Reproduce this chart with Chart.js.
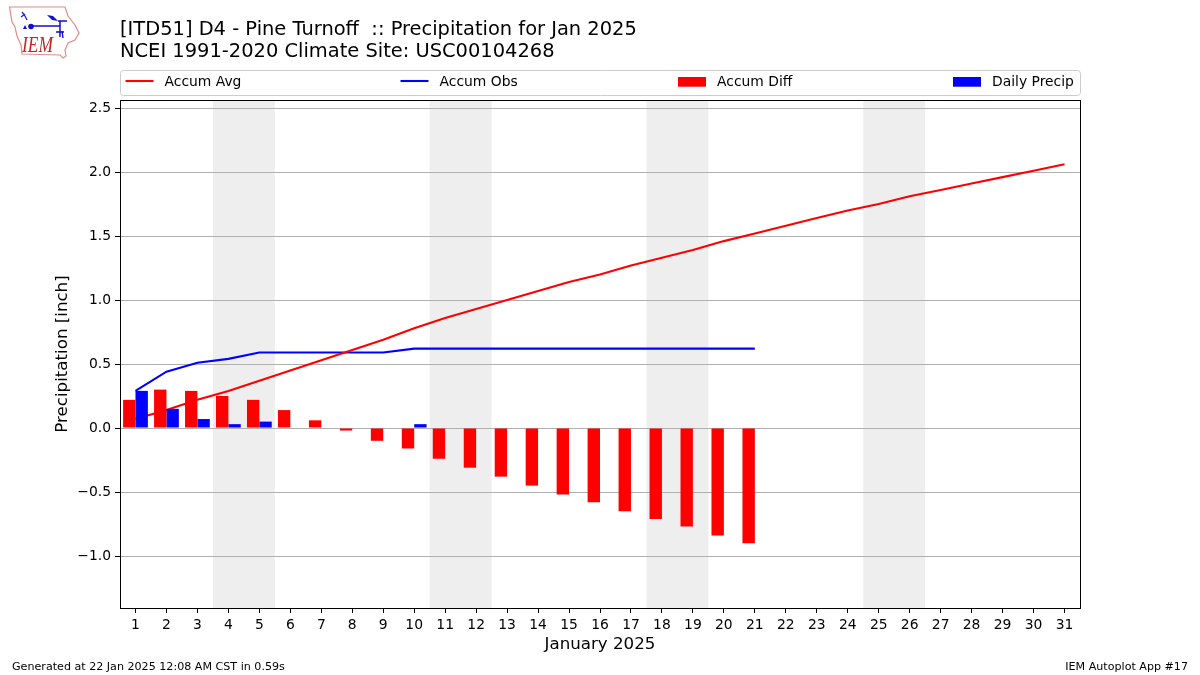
<!DOCTYPE html>
<html>
<head>
<meta charset="utf-8">
<style>
html,body{margin:0;padding:0;background:#fff;width:1200px;height:675px;overflow:hidden}
#wrap{position:relative;width:1200px;height:675px}
canvas{position:absolute;left:0;top:0}
#logo{position:absolute;left:0;top:0}
</style>
<script src="https://cdn.jsdelivr.net/npm/chart.js@4"></script>
</head>
<body>
<div id="wrap">
<canvas id="c" width="1200" height="675"></canvas>
<svg id="logo" width="90" height="62" viewBox="0 0 90 62">
  <path d="M9.5 7 L65 7 L68 16 L75 25 L79 33 L75 40 L68 43 L65 50 L66 56 L63 58 L60 55 L22 54 L21 45 L17 36 L15 27 L12 22 Z" fill="#fff" stroke="#e28a8a" stroke-width="1.2"/>
  <path d="M22 12 L25 16 L27 20 M21 17 L25 14" stroke="#2222dd" stroke-width="1.3" fill="none"/>
  <circle cx="31" cy="26.5" r="2.8" fill="#1111cc"/>
  <path d="M33 26 L60 26 M60 21 L60 37 M58 21 L67 21" stroke="#1111cc" stroke-width="1.5" fill="none"/>
  <path d="M47 15 L53 16 L58 21 L52 20 Z" fill="#1111cc"/>
  <path d="M56 32 L64 32 M62 31 L63 38" stroke="#1111cc" stroke-width="1.4" fill="none"/>
  <path d="M23 29 L25 25 L27 29 Z" fill="#1111cc"/>
  <text x="22" y="52" font-family="Liberation Serif" font-style="italic" font-size="24" fill="#cc2222" textLength="31" lengthAdjust="spacingAndGlyphs">IEM</text>
</svg>
</div>
<script>
const days = ['1','2','3','4','5','6','7','8','9','10','11','12','13','14','15','16','17','18','19','20','21','22','23','24','25','26','27','28','29','30','31'];
const accumAvg = [0.07,0.14,0.22,0.29,0.37,0.45,0.53,0.61,0.69,0.78,0.86,0.93,1.00,1.07,1.14,1.20,1.27,1.33,1.39,1.46,1.52,1.58,1.64,1.70,1.75,1.81,1.86,1.91,1.96,2.01,2.06];
const accumObs = [0.29,0.44,0.51,0.54,0.59,0.59,0.59,0.59,0.59,0.62,0.62,0.62,0.62,0.62,0.62,0.62,0.62,0.62,0.62,0.62,0.62];
const accumDiff = [0.22,0.30,0.29,0.25,0.22,0.14,0.06,-0.02,-0.10,-0.16,-0.24,-0.31,-0.38,-0.45,-0.52,-0.58,-0.65,-0.71,-0.77,-0.84,-0.90];
const dailyPrecip = [0.29,0.15,0.07,0.03,0.05,0,0,0,0,0.03,0,0,0,0,0,0,0,0,0,0,0];
const weekendDays = [[4,5],[11,12],[18,19],[25,26]];
const titleLines = ['[ITD51] D4 - Pine Turnoff  :: Precipitation for Jan 2025','NCEI 1991-2020 Climate Site: USC00104268'];
const footLeft = 'Generated at 22 Jan 2025 12:08 AM CST in 0.59s';
const footRight = 'IEM Autoplot App #17';
const FONT = '"DejaVu Sans"';

const chromePlugin = {
  id: 'chrome',
  beforeDraw(chart) {
    const {ctx, chartArea: a, scales: {x}} = chart;
    const half = x.width / days.length / 2;
    ctx.save();
    ctx.fillStyle = '#eeeeee';
    weekendDays.forEach(([s, e]) => {
      const l = x.getPixelForValue(s - 1) - half, r = x.getPixelForValue(e - 1) + half;
      ctx.fillRect(l, a.top, r - l, a.bottom - a.top);
    });
    ctx.restore();
  },
  afterDraw(chart) {
    const {ctx, chartArea: a} = chart;
    ctx.save();
    ctx.strokeStyle = '#000'; ctx.lineWidth = 1;
    ctx.strokeRect(a.left + 0.5, a.top + 0.5, a.right - a.left, a.bottom - a.top);
    // legend frame
    ctx.strokeStyle = '#cccccc';
    ctx.beginPath(); ctx.roundRect(a.left + 0.5, 70.5, a.right - a.left, 25, 3); ctx.stroke();
    const fs = 13.89;
    ctx.font = fs + 'px ' + FONT; ctx.textBaseline = 'alphabetic'; ctx.textAlign = 'left';
    const starts = [125.5, 400.5, 678, 953];
    chart.data.datasets.forEach((d, i) => {
      const x0 = starts[i];
      if (d.type === 'line') {
        ctx.strokeStyle = d.borderColor; ctx.lineWidth = 2.08;
        ctx.beginPath(); ctx.moveTo(x0, 81); ctx.lineTo(x0 + 28, 81); ctx.stroke();
      } else {
        ctx.fillStyle = d.backgroundColor; ctx.fillRect(x0, 77, 28, 9.7);
      }
      ctx.fillStyle = '#000';
      ctx.fillText(d.label, x0 + 39, 86);
    });
    ctx.font = '11.11px ' + FONT; ctx.fillStyle = '#000';
    ctx.fillText(footLeft, 12, 670);
    ctx.textAlign = 'right';
    ctx.fillText(footRight, 1188, 670);
    ctx.restore();
  }
};

new Chart(document.getElementById('c'), {
  type: 'bar',
  data: {
    labels: days,
    datasets: [
      {type:'line', label:'Accum Avg', data:accumAvg, borderColor:'#ff0000', backgroundColor:'#ff0000', borderWidth:2.08, pointRadius:0, tension:0, order:2},
      {type:'line', label:'Accum Obs', data:accumObs, borderColor:'#0000ff', backgroundColor:'#0000ff', borderWidth:2.08, pointRadius:0, tension:0, order:2},
      {type:'bar', label:'Accum Diff', data:accumDiff, backgroundColor:'#ff0000', borderWidth:0, categoryPercentage:0.8, barPercentage:1, order:1},
      {type:'bar', label:'Daily Precip', data:dailyPrecip, backgroundColor:'#0000ff', borderWidth:0, categoryPercentage:0.8, barPercentage:1, order:1}
    ]
  },
  plugins: [chromePlugin],
  options: {
    responsive: false,
    animation: false,
    devicePixelRatio: 1,
    layout: {padding: {left:0, right:120, top:0, bottom:0}},
    plugins: {
      legend: {display:false},
      tooltip: {enabled:false},
      title: {
        display:true, text:titleLines, align:'start', fullSize:false, color:'#000',
        font:{family:FONT, size:19.44, weight:'normal', lineHeight:1.13},
        padding:{top:19, bottom:37.07}
      }
    },
    scales: {
      x: {
        offset:true,
        grid:{display:true, offset:false, drawOnChartArea:false, drawTicks:true, tickLength:5, tickColor:'#000', tickWidth:1},
        border:{display:false},
        ticks:{autoSkip:false, maxRotation:0, minRotation:0, color:'#000', padding:4, font:{family:FONT, size:13.89}},
        title:{display:true, text:'January 2025', color:'#000', font:{family:FONT, size:16.67}, padding:{top:0,bottom:20}},
        afterFit(s){ s.height = 67; }
      },
      y: {
        min:-1.40625, max:2.5625,
        grid:{color:'#b0b0b0', lineWidth:1, tickLength:5, tickColor:'#000', tickWidth:1},
        border:{display:false},
        ticks:{stepSize:0.5, includeBounds:false, color:'#000', padding:4, font:{family:FONT, size:13.89},
          callback(v){ return v.toFixed(1).replace('-', '\u2212'); }},
        title:{display:true, text:'Precipitation [inch]', color:'#000', font:{family:FONT, size:16.67}, padding:{top:53,bottom:0}},
        afterFit(s){ s.width = 120; }
      }
    }
  }
});
</script>
</body>
</html>
